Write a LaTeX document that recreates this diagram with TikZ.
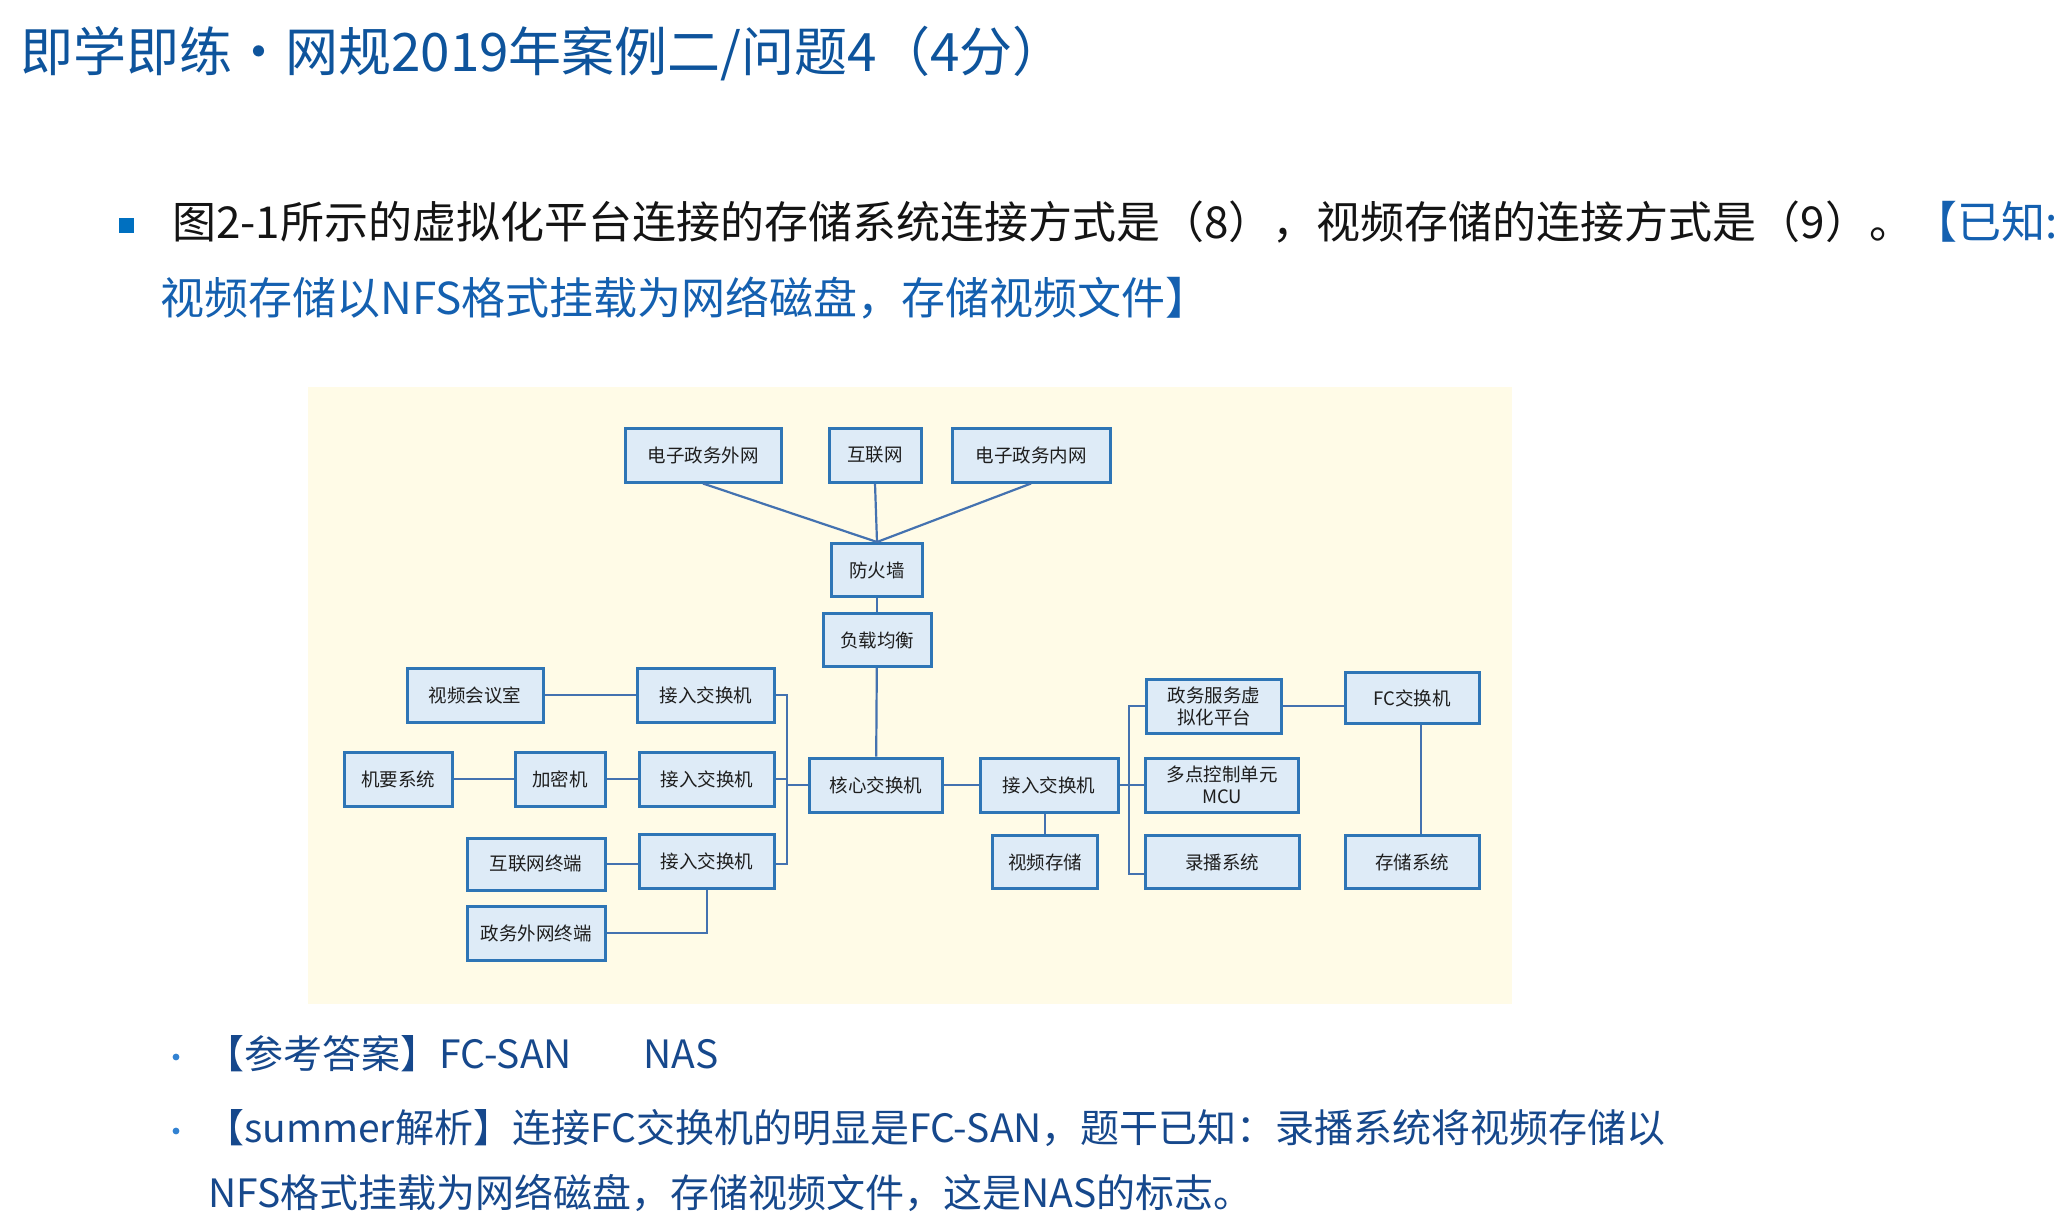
\documentclass[tikz,border=0pt]{standalone}
\usepackage{fontspec}
\setmainfont{Noto Sans CJK SC}
\definecolor{titlec}{RGB}{14,84,156}
\definecolor{bulletc}{RGB}{0,112,192}
\definecolor{knownc}{RGB}{20,96,176}
\definecolor{ansc}{RGB}{22,72,140}
\definecolor{dotc}{RGB}{50,130,210}
\definecolor{bgc}{RGB}{255,251,231}
\definecolor{boxd}{RGB}{46,117,182}
\definecolor{boxf}{RGB}{222,235,247}
\definecolor{linec}{RGB}{68,114,176}
\definecolor{nodetxt}{RGB}{30,30,30}
\definecolor{bodytxt}{RGB}{20,20,20}
\begin{document}
\begin{tikzpicture}[x=1pt,y=-1pt,
  box/.style={draw=boxd, fill=boxf, line width=3pt, inner sep=0pt, align=center,
    text=nodetxt, font=\fontsize{18.5}{22}\selectfont},
  conn/.style={draw=linec, line width=2.2pt},
  txt/.style={anchor=west, inner sep=0pt}]
\useasboundingbox (0,0) rectangle (2066,1216);
\fill[white] (0,0) rectangle (2066,1216);

% header texts
\node[txt, text=titlec, font=\fontsize{53}{60}\selectfont] (title) at (20,54) {即学即练·网规2019年案例二/问题4（4分）};
\node[fill=bulletc, minimum size=15pt, inner sep=0pt] (sq) at (126,225) {};
\node[txt, text=bodytxt, font=\fontsize{44}{52}\selectfont] (q1) at (172,222) {图2-1所示的虚拟化平台连接的存储系统连接方式是（8），视频存储的连接方式是（9）。};
\node[txt, text=knownc, font=\fontsize{44}{52}\selectfont] (q1b) at (1913,222) {【已知:};
\node[txt, text=knownc, font=\fontsize{44}{52}\selectfont] (q2) at (160,298) {视频存储以NFS格式挂载为网络磁盘，存储视频文件】};

% diagram background
\fill[bgc] (308,387) rectangle (1512,1004);

% nodes
\node[box, minimum width=156pt, minimum height=54pt] (ww) at (703,455) {电子政务外网};
\node[box, minimum width=92pt, minimum height=54pt] (hl) at (875,455) {互联网};
\node[box, minimum width=158pt, minimum height=54pt] (nw) at (1031,455) {电子政务内网};
\node[box, minimum width=91pt, minimum height=53pt] (fw) at (877,570) {防火墙};
\node[box, minimum width=108pt, minimum height=53pt] (lb) at (877,640) {负载均衡};
\node[box, minimum width=133pt, minimum height=54pt] (core) at (876,785) {核心交换机};
\node[box, minimum width=136pt, minimum height=54pt] (vconf) at (475,695) {视频会议室};
\node[box, minimum width=137pt, minimum height=54pt] (acc1) at (706,695) {接入交换机};
\node[box, minimum width=108pt, minimum height=54pt] (jiyao) at (398,779) {机要系统};
\node[box, minimum width=90pt, minimum height=54pt] (jiami) at (560,779) {加密机};
\node[box, minimum width=135pt, minimum height=54pt] (acc2) at (707,779) {接入交换机};
\node[box, minimum width=138pt, minimum height=52pt] (hlterm) at (536,864) {互联网终端};
\node[box, minimum width=135pt, minimum height=54pt] (acc3) at (707,861) {接入交换机};
\node[box, minimum width=138pt, minimum height=54pt] (zwterm) at (536,933) {政务外网终端};
\node[box, minimum width=138pt, minimum height=54pt] (accR) at (1049,785) {接入交换机};
\node[box, minimum width=105pt, minimum height=53pt] (vstore) at (1045,862) {视频存储};
\node[box, minimum width=135pt, minimum height=54pt] (zwfw) at (1214,706) {政务服务虚\\拟化平台};
\node[box, minimum width=153pt, minimum height=54pt] (mcu) at (1222,785) {多点控制单元\\MCU};
\node[box, minimum width=154pt, minimum height=53pt] (lubo) at (1222,862) {录播系统};
\node[box, minimum width=134pt, minimum height=51pt] (fc) at (1412,698) {FC交换机};
\node[box, minimum width=134pt, minimum height=53pt] (stor) at (1412,862) {存储系统};

% bus coordinates
\coordinate (busL) at (787,0);
\coordinate (busR) at (1129,0);

% connectors
\draw[conn] (ww.south) -- (fw.north);
\draw[conn] (hl.south) -- (fw.north);
\draw[conn] (nw.south) -- (fw.north);
\draw[conn] (fw) -- (lb);
\draw[conn] (lb) -- (core);
\draw[conn] (vconf) -- (acc1);
\draw[conn] (jiyao) -- (jiami);
\draw[conn] (jiami) -- (acc2);
\draw[conn] (hlterm.east) -- (hlterm.east -| acc3.west);
\draw[conn] (zwterm.east) -| (acc3.south);
\draw[conn] (acc1.east) -- (acc1.east -| busL) -- (hlterm.east -| busL) -- (hlterm.east -| acc3.east);
\draw[conn] (acc2.east) -- (acc2.east -| busL);
\draw[conn] (core.west -| busL) -- (core.west);
\draw[conn] (core) -- (accR);
\draw[conn] (accR.east) -- (accR.east -| busR);
\draw[conn] (zwfw.west) -- (zwfw.west -| busR) -- ([yshift=-12pt]lubo.west -| busR) -- ([yshift=-12pt]lubo.west);
\draw[conn] (mcu.west -| busR) -- (mcu.west);
\draw[conn] (vstore.north) -- (vstore.north |- accR.south);
\draw[conn] (zwfw.east) -- (zwfw.east -| fc.west);
\draw[conn] ([xshift=9pt]fc.south) -- ([xshift=9pt]stor.north);

% answer texts
\fill[dotc] (176,1057) circle (3.4);
\node[txt, text=ansc, font=\fontsize{39}{46}\selectfont] (ans) at (205,1054) {【参考答案】FC-SAN};
\node[txt, text=ansc, font=\fontsize{39}{46}\selectfont] (ansB) at (643,1054) {NAS};
\fill[dotc] (176,1131) circle (3.4);
\node[txt, text=ansc, font=\fontsize{39}{46}\selectfont] (exp1) at (205,1128) {【summer解析】连接FC交换机的明显是FC-SAN，题干已知：录播系统将视频存储以};
\node[txt, text=ansc, font=\fontsize{39}{46}\selectfont] (exp2) at (208,1193) {NFS格式挂载为网络磁盘，存储视频文件，这是NAS的标志。};
\end{tikzpicture}
\end{document}
